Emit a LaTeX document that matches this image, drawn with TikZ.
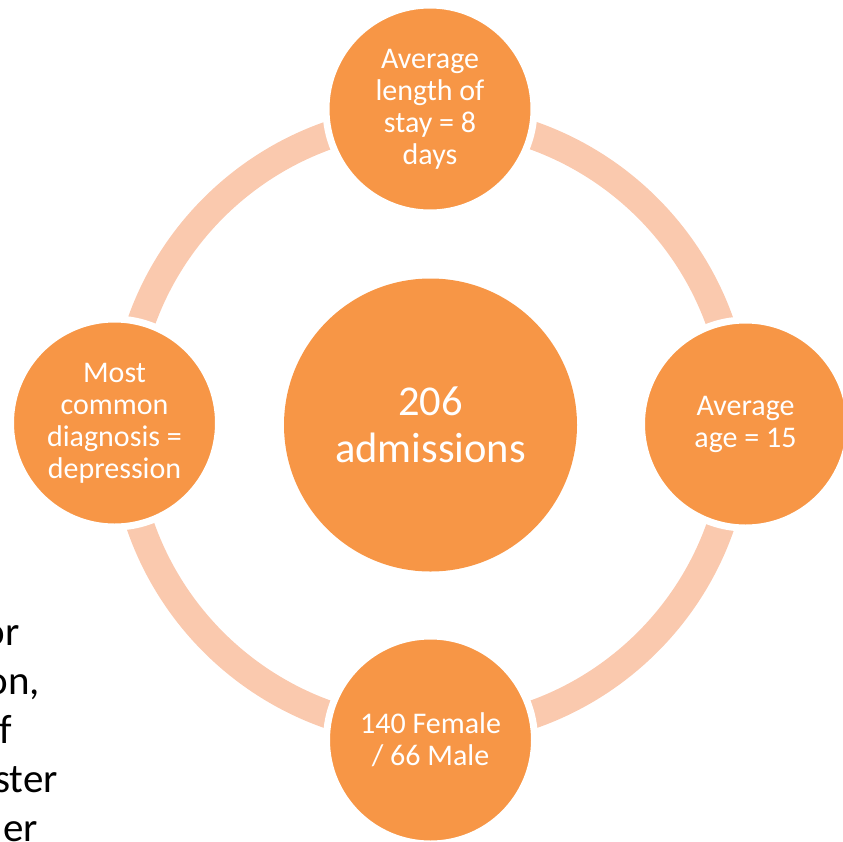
\documentclass[tikz,border=0pt]{standalone}
\usepackage{fontspec}
\setmainfont{Carlito}
\usepackage{xcolor}
\definecolor{accentorange}{RGB}{247,150,70}
\definecolor{ringpeach}{RGB}{250,201,174}

\begin{document}
\begin{tikzpicture}[x=1pt, y=-1pt,
  bubble/.style={circle, fill=accentorange, draw=white, line width=7pt, minimum size=208pt, inner sep=0pt, align=center, text=white, font=\fontsize{30}{32}\selectfont},
  hub/.style={circle, fill=accentorange, minimum size=293pt, inner sep=0pt, align=center, text=white, font=\fontsize{42.5}{47}\selectfont}]
\useasboundingbox (0,0) rectangle (843,841);
\clip (0,0) rectangle (843,841);
% cut-off page text on the left
\foreach \x/\y/\word in {20/645/or, 40/694/{on,}, 12/743/f, 58/792/ster, 38/841/er}
    \node[anchor=base east, inner sep=0pt, font=\fontsize{41}{49}\selectfont] (txt\y) at (\x,\y) {\word};
\node[hub] (admit) at (430.5,425) {206\\admissions};
\draw[ringpeach, line width=28pt] (admit.center) circle (307pt);
\node[bubble] (stay) at (430,109) {Average\\length of\\stay = 8\\days};
\node[bubble] (age) at (745.5,424) {Average\\age = 15};
\node[bubble] (sex) at (430.5,740) {140 Female\\/ 66 Male};
\node[bubble] (diag) at (114.5,423) {Most\\common\\diagnosis =\\depression};
\end{tikzpicture}
\end{document}
